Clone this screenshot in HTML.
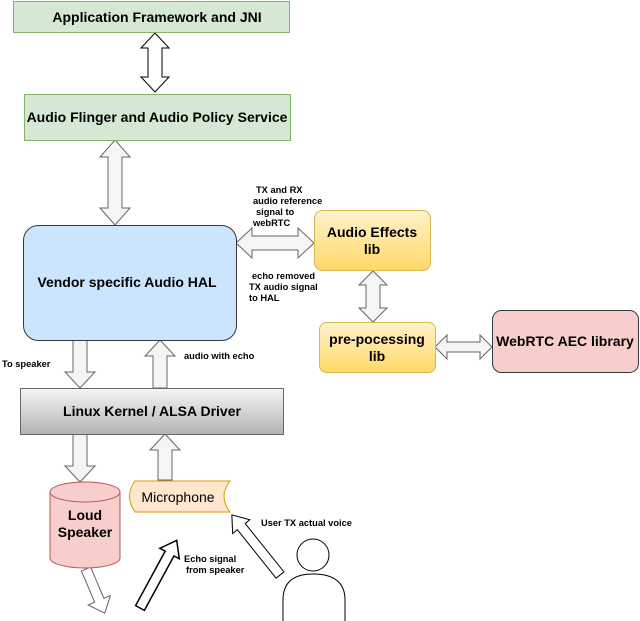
<!DOCTYPE html>
<html><head><meta charset="utf-8"><style>body{margin:0;background:#fff}svg{display:block}text{font-family:"Liberation Sans",sans-serif}</style></head><body>
<svg width="640" height="621" viewBox="0 0 640 621" xmlns="http://www.w3.org/2000/svg">
<defs>
<linearGradient id="yg" x1="0" y1="0" x2="0" y2="1"><stop offset="0" stop-color="#fff2cc"/><stop offset="1" stop-color="#ffd966"/></linearGradient>
<linearGradient id="gg" x1="0" y1="0" x2="0" y2="1"><stop offset="0" stop-color="#f5f5f5"/><stop offset="1" stop-color="#b3b3b3"/></linearGradient>
</defs>
<g stroke="#666" stroke-width="1" fill="#f5f5f5">
<path d="M155,33 L169,48 L162,48 L162,77 L169,77 L155,92 L141,77 L148,77 L148,48 L141,48Z" fill="#fff" stroke="#000"/>
<path d="M115,140 L130,157 L122,157 L122,208 L130,208 L115,225 L100,208 L108,208 L108,157 L100,157Z"/>
<path d="M236,243 L252,228 L252,236 L298,236 L298,228 L314,243 L298,258 L298,250 L252,250 L252,258Z"/>
<path d="M373,271 L387,285 L380,285 L380,308 L387,308 L373,322 L359,308 L366,308 L366,285 L359,285Z"/>
<path d="M435,347 L447,335 L447,342 L480,342 L480,335 L492,347 L480,359 L480,352 L447,352 L447,359Z"/>
<path d="M73,340 L87,340 L87,372 L95,372 L80,388 L65,372 L73,372Z"/>
<path d="M153,388 L167,388 L167,356 L175,356 L160,340 L145,356 L153,356Z"/>
<path d="M73,434 L87,434 L87,466 L95,466 L80,482 L65,466 L73,466Z"/>
<path d="M158,480 L172,480 L172,450 L180,450 L165,434 L150,450 L158,450Z"/>
<path transform="translate(86,569) rotate(67)" d="M0,-5 L34,-5 L34,-12 L48,0 L34,12 L34,5 L0,5Z" fill="#fff"/>
</g>
<path transform="translate(140,608) rotate(-61.5)" d="M0,-5 L62,-5 L62,-11 L77,0 L62,11 L62,5 L0,5Z" fill="#fff" stroke="#000" stroke-width="1.5"/>
<path transform="translate(280,575) rotate(-128.7)" d="M0,-5 L62,-5 L62,-11 L77,0 L62,11 L62,5 L0,5Z" fill="#fff" stroke="#000" stroke-width="1"/>

<rect x="13.5" y="1.5" width="276" height="31" fill="#d5e8d4" stroke="#82b366"/>
<text x="157" y="22" font-size="14" font-weight="bold" text-anchor="middle">Application Framework and JNI</text>
<rect x="24.5" y="94.5" width="266" height="46" fill="#d5e8d4" stroke="#82b366"/>
<text x="157" y="122" font-size="14" font-weight="bold" text-anchor="middle">Audio Flinger and Audio Policy Service</text>
<rect x="23.5" y="225.5" width="213" height="115" rx="15" fill="#cce5ff" stroke="#36393d"/>
<text x="127" y="287" font-size="14" font-weight="bold" text-anchor="middle">Vendor specific Audio HAL</text>
<rect x="314.5" y="210.5" width="116" height="60" rx="8" fill="url(#yg)" stroke="#d6b656"/>
<text x="372" y="237" font-size="14" font-weight="bold" text-anchor="middle">Audio Effects</text>
<text x="372" y="254" font-size="14" font-weight="bold" text-anchor="middle">lib</text>
<rect x="319.5" y="322.5" width="116" height="50" rx="7" fill="url(#yg)" stroke="#d6b656"/>
<text x="377" y="344" font-size="14" font-weight="bold" text-anchor="middle">pre-pocessing</text>
<text x="377" y="361" font-size="14" font-weight="bold" text-anchor="middle">lib</text>
<rect x="492.5" y="310.5" width="146" height="62" rx="9" fill="#f8cecc" stroke="#36393d"/>
<text x="565" y="346" font-size="14" font-weight="bold" text-anchor="middle">WebRTC AEC library</text>
<rect x="20.5" y="388.5" width="263" height="46" fill="url(#gg)" stroke="#666"/>
<text x="152" y="416" font-size="14" font-weight="bold" text-anchor="middle">Linux Kernel / ALSA Driver</text>

<path d="M50,492 L50,558 A35,10 0 0 0 120,558 L120,492" fill="#f8cecc" stroke="#b85450"/>
<ellipse cx="85" cy="492" rx="35" ry="10" fill="#f8cecc" stroke="#b85450"/>
<text x="85" y="520" font-size="14" font-weight="bold" text-anchor="middle">Loud</text>
<text x="85" y="537" font-size="14" font-weight="bold" text-anchor="middle">Speaker</text>
<path d="M135,481 L230,481 Q218,496 230,512 L135,512 Q124,496 135,481Z" fill="#ffe6cc" stroke="#d79b00"/>
<text x="178" y="502" font-size="14" text-anchor="middle">Microphone</text>

<circle cx="313" cy="555" r="16" fill="#fff" stroke="#000"/>
<path d="M283,621 L283,600 Q283,574 313,574 Q345,574 345,600 L345,621" fill="#fff" stroke="#000"/>

<g font-size="9.3" font-weight="bold">
<text x="256" y="193">TX and RX</text>
<text x="253" y="204">audio reference</text>
<text x="256" y="215">signal to</text>
<text x="253" y="226">webRTC</text>
<text x="252" y="279">echo removed</text>
<text x="249" y="290">TX audio signal</text>
<text x="249" y="301">to HAL</text>
<text x="2" y="367">To speaker</text>
<text x="184" y="359">audio with echo</text>
<text x="261" y="526">User TX actual voice</text>
<text x="184" y="562">Echo signal</text>
<text x="186" y="573">from speaker</text>
</g>
</svg>
</body></html>
